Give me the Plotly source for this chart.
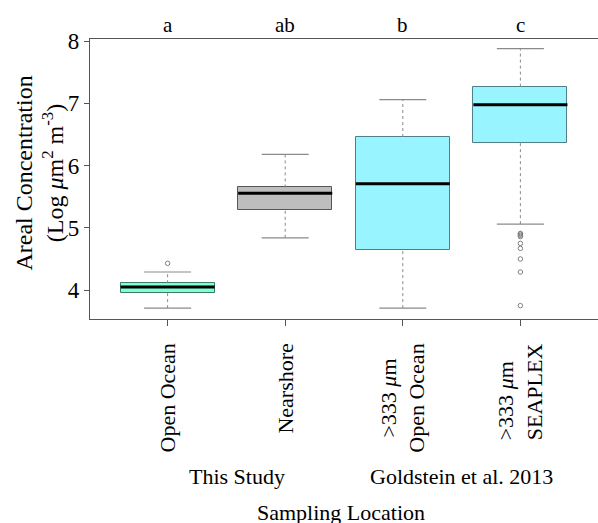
import plotly.graph_objects as go

# ---- data ----
positions = [1, 2, 3, 4]
tick_labels = ["Open Ocean", "Nearshore", ">333 <i>μ</i>m<br>Open Ocean", ">333 <i>μ</i>m<br>SEAPLEX"]
label_align = ["center", "center", "center", "left"]
letters = ["a", "ab", "b", "c"]
lower_whisker = [3.71, 4.84, 3.71, 5.06]
q1 = [3.95, 5.29, 4.645, 6.37]
median = [4.05, 5.555, 5.71, 6.98]
q3 = [4.11, 5.65, 6.46, 7.27]
upper_whisker = [4.29, 6.18, 7.06, 7.88]
outliers = [[4.43], [], [], [4.91, 4.90, 4.88, 4.86, 4.75, 4.67, 4.50, 4.29, 3.75]]
fill_colors = ["#7FFFD4", "#BEBEBE", "#98F5FF", "#98F5FF"]
edge_colors = ["#3f7a68", "#555555", "#4f8088", "#4f8088"]
y_ticks = [4, 5, 6, 7, 8]

FONT = "Liberation Serif, Times New Roman, serif"
BOX_W = 0.8
CAP_W = 0.4
WHISK = "#8a8a8a"

fig = go.Figure()

# boxes (IQR)
fig.add_trace(go.Bar(
    x=positions,
    y=[b - a for a, b in zip(q1, q3)],
    base=q1,
    width=BOX_W,
    marker=dict(color=fill_colors, line=dict(color=edge_colors, width=1)),
    showlegend=False, hoverinfo="skip",
))

for i, x in enumerate(positions):
    # dashed whisker stems
    fig.add_trace(go.Scatter(
        x=[x, x, None, x, x],
        y=[lower_whisker[i], q1[i], None, q3[i], upper_whisker[i]],
        mode="lines", line=dict(color=WHISK, width=1, dash="3px,3px"),
        showlegend=False, hoverinfo="skip"))
    # whisker caps
    for v in (lower_whisker[i], upper_whisker[i]):
        fig.add_trace(go.Scatter(
            x=[x - CAP_W / 2, x + CAP_W / 2], y=[v, v],
            mode="lines", line=dict(color=WHISK, width=1.2),
            showlegend=False, hoverinfo="skip"))
    # median
    fig.add_trace(go.Scatter(
        x=[x - BOX_W / 2, x + BOX_W / 2], y=[median[i], median[i]],
        mode="lines", line=dict(color="black", width=3),
        showlegend=False, hoverinfo="skip"))
    # outliers
    if outliers[i]:
        fig.add_trace(go.Scatter(
            x=[x] * len(outliers[i]), y=outliers[i], mode="markers",
            marker=dict(symbol="circle-open", size=4.5, color="#808080",
                        line=dict(width=1)),
            showlegend=False, hoverinfo="skip"))

annotations = []
# significance letters
for x, t in zip(positions, letters):
    annotations.append(dict(x=x, xref="x", y=1.05, yref="paper", text=t,
                            showarrow=False, xanchor="center", yanchor="middle",
                            font=dict(family=FONT, size=21, color="black")))
# rotated category labels
for x, t, al in zip(positions, tick_labels, label_align):
    annotations.append(dict(x=x, xref="x", y=-0.08, yref="paper", text=t,
                            textangle=-90, showarrow=False, xanchor="center",
                            yanchor="top", align=al,
                            font=dict(family=FONT, size=22, color="black")))
# group labels
annotations.append(dict(x=0.289, xref="paper", y=-0.564, yref="paper", text="This Study",
                        showarrow=False, xanchor="center", yanchor="middle",
                        font=dict(family=FONT, size=22, color="black")))
annotations.append(dict(x=0.731, xref="paper", y=-0.564, yref="paper",
                        text="Goldstein et al. 2013",
                        showarrow=False, xanchor="center", yanchor="middle",
                        font=dict(family=FONT, size=22, color="black")))
annotations.append(dict(x=0.494, xref="paper", y=-0.69, yref="paper",
                        text="Sampling Location",
                        showarrow=False, xanchor="center", yanchor="middle",
                        font=dict(family=FONT, size=22, color="black")))
# y-axis title
annotations.append(dict(x=-0.1, xref="paper", y=0.52, yref="paper",
                        text="Areal Concentration<br>(Log <i>μ</i>m<sup>2</sup> m<sup>-3</sup>)",
                        textangle=-90, showarrow=False, xanchor="center", yanchor="middle",
                        font=dict(family=FONT, size=24, color="black")))

fig.update_layout(
    width=598, height=523,
    margin=dict(l=90, r=0, t=39, b=204),
    paper_bgcolor="white", plot_bgcolor="white",
    bargap=0,
    annotations=annotations,
    xaxis=dict(range=[0.34, 4.66], tickvals=positions, ticktext=[""] * 4,
               showline=True, linecolor="#555555", linewidth=1.2, mirror=True,
               ticks="outside", ticklen=6, tickcolor="#555555",
               showgrid=False, zeroline=False, fixedrange=True),
    yaxis=dict(range=[3.535, 8.035], tickvals=y_ticks,
               showline=True, linecolor="#555555", linewidth=1.2,
               ticks="outside", ticklen=5, tickcolor="#555555",
               tickfont=dict(family=FONT, size=23, color="black"),
               showgrid=False, zeroline=False, fixedrange=True),
    font=dict(family=FONT, color="black"),
)

fig.write_html("out.html")
